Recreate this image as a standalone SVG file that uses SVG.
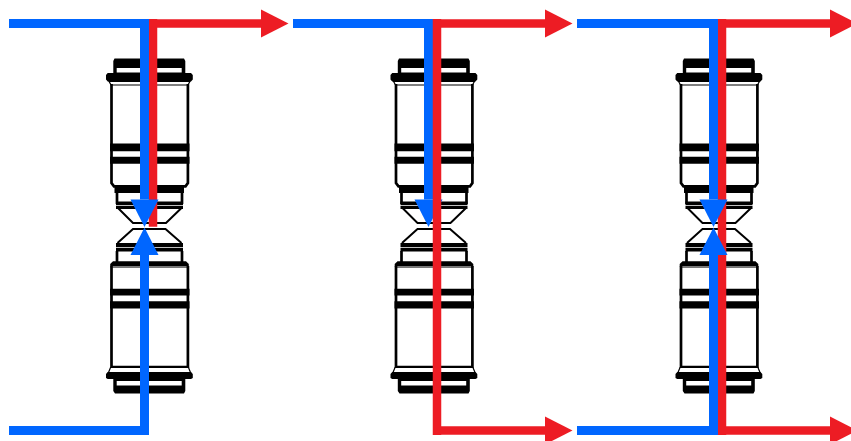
<svg xmlns="http://www.w3.org/2000/svg" width="851" height="441" viewBox="0 0 851 441">
<style>
.b{fill:#000}
.w{fill:#fff}
.g{fill:#777}
.l{fill:none;stroke:#000;stroke-width:2.7}
.t{fill:#fff;stroke:#000;stroke-width:1.2}
.c{fill:none;stroke:#000;stroke-width:2}
.blue{fill:none;stroke:#0066ff;stroke-width:9}
.red{fill:none;stroke:#ed1c24;stroke-width:8.5}
</style>
<defs>
<marker id="ab" markerUnits="userSpaceOnUse" markerWidth="28" markerHeight="28" refX="0" refY="14" orient="auto" overflow="visible"><path d="M0 0L27.5 14L0 28Z" fill="#0066ff"/></marker>
<marker id="ar" markerUnits="userSpaceOnUse" markerWidth="28" markerHeight="28" refX="0" refY="14" orient="auto" overflow="visible"><path d="M0 0L27.5 14L0 28Z" fill="#ed1c24"/></marker>
<g id="fitting">
<path class="b" d="M114.500 58.500H184L185.300 61V73H191L192.800 75V79.500L191 81.500H107.700L106 79.500V75L107.700 73H113.300V61Z"/>
<rect class="w" x="116.700" y="68" width="65" height="4.500"/>
<path class="t" d="M109 81.300H190L188 85H111Z"/>
<path class="l" d="M111.500 84V183L114 186.300H185.500L187.900 183V84"/>
<path class="b" d="M110 143.500H189.500V151.200H110Z"/>
<path class="b" d="M110 156.800H189.500V163.800H110Z"/>
<path class="b" d="M114.500 186.800H184V193H114.500Z"/>
<path class="l" d="M117 192V204M182 192V204"/>
<path class="b" d="M116 201.500H183V205H116Z"/>
<path class="b" d="M116 205.700H183V209H116Z"/>
<path class="c" d="M118 208L133 223H166L181.500 208"/>
<path class="c" d="M117.500 243L133 229H165.500L181.500 243"/>
<path class="b" d="M116 243H183V247H116Z"/>
<path class="b" d="M116 247.800H183V251.500H116Z"/>
<path class="l" d="M117 251V262M182 251V262"/>
<path class="b" d="M113 261.300H186L188.800 264V266.500H110.200V264Z"/>
<rect class="g" x="110.500" y="266.500" width="78" height="1.500"/>
<path class="l" d="M111.500 266V367H187.900V266"/>
<path class="b" d="M110 288.800H189.500V295.500H110Z"/>
<path class="b" d="M110 301.200H189.500V308.500H110Z"/>
<path class="t" d="M110.500 367.500H188.500L190.500 372.500H108.500Z"/>
<path class="b" d="M107.700 372H191L192.800 374V378L191 379H185.300V391L184 393.500H115L113.300 391V379H107.700L106 378V374Z"/>
<rect class="w" x="116.700" y="381" width="65" height="4.500"/>
</g>
</defs>
<rect width="851" height="441" fill="#fff"/>
<g id="fitting-1"><use href="#fitting"/></g>
<g id="fitting-2"><use href="#fitting" x="284.500"/></g>
<g id="fitting-3"><use href="#fitting" x="569.500"/></g>
<g id="connectors">
<path class="red" d="M153 19V226.700"/>
<path class="red" d="M149 23.500H261" marker-end="url(#ar)"/>
<path class="blue" d="M9 23.500H144.500V199.500" marker-end="url(#ab)"/>
<path class="blue" d="M9 430.500H144.500V255" marker-end="url(#ab)"/>
<path class="blue" d="M293 23.500H428.500V199.500" marker-end="url(#ab)"/>
<path class="red" d="M433 23.500H545" marker-end="url(#ar)"/>
<path class="red" d="M437 19V435"/>
<path class="red" d="M433 430.500H545" marker-end="url(#ar)"/>
<path class="red" d="M722 19V435"/>
<path class="red" d="M718 23.500H830" marker-end="url(#ar)"/>
<path class="red" d="M718 430.500H830" marker-end="url(#ar)"/>
<path class="blue" d="M577 23.500H713.500V199.500" marker-end="url(#ab)"/>
<path class="blue" d="M577 430.500H713.500V255" marker-end="url(#ab)"/>
</g>
</svg>
